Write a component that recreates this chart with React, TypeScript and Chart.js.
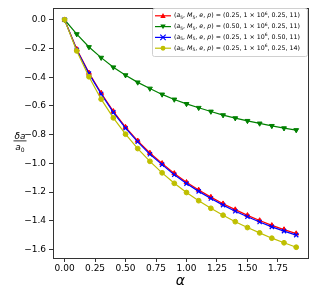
import React, { useEffect, useRef } from "react";
import { Chart, registerables } from "chart.js";

Chart.register(...registerables);

const alpha = [0, 0.1, 0.2, 0.3, 0.4, 0.5, 0.6, 0.7, 0.8, 0.9, 1.0, 1.1, 1.2, 1.3, 1.4, 1.5, 1.6, 1.7, 1.8, 1.9];
const redSeries = [0, -0.205, -0.37, -0.51, -0.638, -0.748, -0.843, -0.928, -1.0, -1.07, -1.132, -1.185, -1.235, -1.281, -1.322, -1.362, -1.398, -1.432, -1.461, -1.489];
const greenSeries = [0, -0.1, -0.19, -0.264, -0.331, -0.386, -0.436, -0.479, -0.52, -0.555, -0.586, -0.613, -0.639, -0.664, -0.685, -0.704, -0.722, -0.739, -0.755, -0.768];
const blueSeries = [0, -0.21, -0.375, -0.517, -0.645, -0.755, -0.85, -0.937, -1.009, -1.079, -1.141, -1.195, -1.245, -1.291, -1.333, -1.372, -1.408, -1.442, -1.472, -1.5];
const yellowSeries = [0, -0.217, -0.397, -0.553, -0.683, -0.797, -0.897, -0.986, -1.066, -1.139, -1.203, -1.26, -1.313, -1.361, -1.406, -1.447, -1.484, -1.521, -1.553, -1.584];
const xTicks = [0, 0.25, 0.5, 0.75, 1.0, 1.25, 1.5, 1.75];
const yTicks = [0, -0.2, -0.4, -0.6, -0.8, -1.0, -1.2, -1.4, -1.6];
const legendParams = ["0.25", "0.50", "0.25", "0.25"];
const legendE = ["0.25", "0.25", "0.50", "0.25"];
const legendP = ["11", "11", "11", "14"];

const FONT = "'DejaVu Sans', sans-serif";
const RED = "#ff0000";
const GREEN = "#008000";
const BLUE = "#0000ff";
const YELLOW = "#bfbf00";

const toPts = (ys: number[]) => ys.map((y, i) => ({ x: alpha[i], y }));

function drawMarker(ctx: CanvasRenderingContext2D, kind: string, x: number, y: number, color: string) {
  ctx.save();
  ctx.fillStyle = color;
  ctx.strokeStyle = color;
  const r = 2.7;
  ctx.beginPath();
  if (kind === "up") {
    ctx.moveTo(x, y - r);
    ctx.lineTo(x + r, y + r * 0.8);
    ctx.lineTo(x - r, y + r * 0.8);
    ctx.closePath();
    ctx.fill();
  } else if (kind === "down") {
    ctx.moveTo(x, y + r);
    ctx.lineTo(x + r, y - r * 0.8);
    ctx.lineTo(x - r, y - r * 0.8);
    ctx.closePath();
    ctx.fill();
  } else if (kind === "x") {
    ctx.lineWidth = 1.2;
    ctx.moveTo(x - r, y - r);
    ctx.lineTo(x + r, y + r);
    ctx.moveTo(x + r, y - r);
    ctx.lineTo(x - r, y + r);
    ctx.stroke();
  } else {
    ctx.arc(x, y, r * 0.9, 0, Math.PI * 2);
    ctx.fill();
  }
  ctx.restore();
}

const decorPlugin = {
  id: "decor",
  afterDraw(chart: any) {
    const ctx: CanvasRenderingContext2D = chart.ctx;
    const a = chart.chartArea;
    ctx.save();
    // frame
    ctx.strokeStyle = "#333";
    ctx.lineWidth = 1;
    ctx.strokeRect(Math.round(a.left) + 0.5, Math.round(a.top) + 0.5, Math.round(a.right - a.left), Math.round(a.bottom - a.top));

    // x title
    ctx.fillStyle = "#000";
    ctx.font = `italic 14px ${FONT}`;
    ctx.textAlign = "center";
    ctx.textBaseline = "middle";
    ctx.fillText("α", (a.left + a.right) / 2, 281);

    // y title fraction
    const fx = 20;
    const fy = 141;
    ctx.font = `italic 9px ${FONT}`;
    ctx.textBaseline = "alphabetic";
    ctx.fillText("δa", fx, fy - 2.5);
    ctx.textAlign = "left";
    const aw = ctx.measureText("a").width;
    ctx.fillText("a", fx - aw / 2 - 2, fy + 9);
    ctx.font = `6px ${FONT}`;
    ctx.fillText("0", fx - aw / 2 - 2 + aw, fy + 11);
    ctx.fillRect(fx - 6.5, fy - 0.5, 13, 0.8);

    // legend
    const lx = 152, ly = 8, lw = 155, lh = 48;
    ctx.fillStyle = "rgba(255,255,255,0.85)";
    ctx.strokeStyle = "#d0d0d0";
    ctx.lineWidth = 1;
    ctx.beginPath();
    (ctx as any).roundRect(lx + 0.5, ly + 0.5, lw, lh, 2);
    ctx.fill();
    ctx.stroke();

    const rows = [
      { color: RED, kind: "up" },
      { color: GREEN, kind: "down" },
      { color: BLUE, kind: "x" },
      { color: YELLOW, kind: "circle" },
    ];
    rows.forEach((r, i) => {
      const y = 15.8 + i * 10.8;
      ctx.strokeStyle = r.color;
      ctx.lineWidth = 1.2;
      ctx.beginPath();
      ctx.moveTo(155, y);
      ctx.lineTo(171, y);
      ctx.stroke();
      drawMarker(ctx, r.kind, 163, y, r.color);

      // text pieces
      const size = 6.3;
      const pieces: [string, string, number][] = [
        ["(", "n", 0],
        ["a", "i", 0],
        ["5", "s", 1],
        [", ", "n", 0],
        ["M", "i", 0],
        ["5", "s", 1],
        [", ", "n", 0],
        ["e", "i", 0],
        [", ", "n", 0],
        ["p", "i", 0],
        [") = (" + legendParams[i] + ", 1 × 10", "n", 0],
        ["6", "s", -1],
        [", " + legendE[i] + ", " + legendP[i] + ")", "n", 0],
      ];
      let x = 174;
      ctx.fillStyle = "#000";
      ctx.textAlign = "left";
      ctx.textBaseline = "middle";
      pieces.forEach(([t, st, off]) => {
        if (st === "i") ctx.font = `italic ${size}px ${FONT}`;
        else if (st === "s") ctx.font = `${size * 0.7}px ${FONT}`;
        else ctx.font = `${size}px ${FONT}`;
        const dy = off === 1 ? 1.8 : off === -1 ? -2.2 : 0;
        ctx.fillText(t, x, y + dy);
        x += ctx.measureText(t).width;
      });
    });
    ctx.restore();
  },
};

export default function App() {
  const ref = useRef<HTMLCanvasElement | null>(null);
  useEffect(() => {
    document.body.style.margin = "0";
    const canvas = ref.current!;
    const ds = (label: string, data: number[], color: string, style: any, extra: any = {}) => ({
      label,
      data: toPts(data),
      borderColor: color,
      backgroundColor: color,
      borderWidth: 1.2,
      pointStyle: style,
      pointRadius: 2.8,
      pointBorderWidth: 1,
      pointBackgroundColor: color,
      pointBorderColor: color,
      tension: 0,
      fill: false,
      ...extra,
    });
    const chart = new Chart(canvas, {
      type: "line",
      data: {
        datasets: [
          ds("yellow", yellowSeries, YELLOW, "circle", { pointRadius: 2.4 }),
          ds("blue", blueSeries, BLUE, "crossRot", { pointBorderWidth: 1.2, pointRadius: 3 }),
          ds("green", greenSeries, GREEN, "triangle", { pointRotation: 180, pointRadius: 2.8 }),
          ds("red", redSeries, RED, "triangle", { pointRadius: 2.8 }),
        ],
      },
      options: {
        animation: false,
        responsive: false,
        devicePixelRatio: 1,
        layout: { padding: { top: 5, right: 5, left: 0, bottom: 0 } },
        plugins: { legend: { display: false }, tooltip: { enabled: false } },
        scales: {
          x: {
            type: "linear",
            min: -0.095,
            max: 1.995,
            afterBuildTicks: (s: any) => {
              s.ticks = xTicks.map((v) => ({ value: v }));
            },
            afterFit: (s: any) => {
              s.height = 36;
            },
            ticks: {
              callback: (v: any) => Number(v).toFixed(2),
              font: { family: FONT, size: 9 },
              color: "#000",
              padding: 1,
              maxRotation: 0,
              autoSkip: false,
            },
            grid: { display: true, drawOnChartArea: false, drawTicks: true, tickLength: 4, color: "#333" },
            border: { display: true, color: "#333" },
          },
          y: {
            type: "linear",
            min: -1.659,
            max: 0.079,
            afterBuildTicks: (s: any) => {
              s.ticks = yTicks.map((v) => ({ value: v }));
            },
            afterFit: (s: any) => {
              s.width = 53;
            },
            ticks: {
              callback: (v: any) => {
                const t = Math.abs(Number(v)).toFixed(1);
                return Number(v) < -1e-9 ? "\u2212" + t : t;
              },
              font: { family: FONT, size: 9 },
              color: "#000",
              padding: 3,
              autoSkip: false,
            },
            grid: { display: true, drawOnChartArea: false, drawTicks: true, tickLength: 4, color: "#333" },
            border: { display: true, color: "#333" },
          },
        },
      },
      plugins: [decorPlugin],
    });
    return () => chart.destroy();
  }, []);
  return (
    <div style={{ position: "absolute", left: 0, top: 0, width: 313, height: 294, background: "#fff" }}>
      <canvas ref={ref} width={313} height={294} style={{ width: 313, height: 294, display: "block" }} />
    </div>
  );
}
